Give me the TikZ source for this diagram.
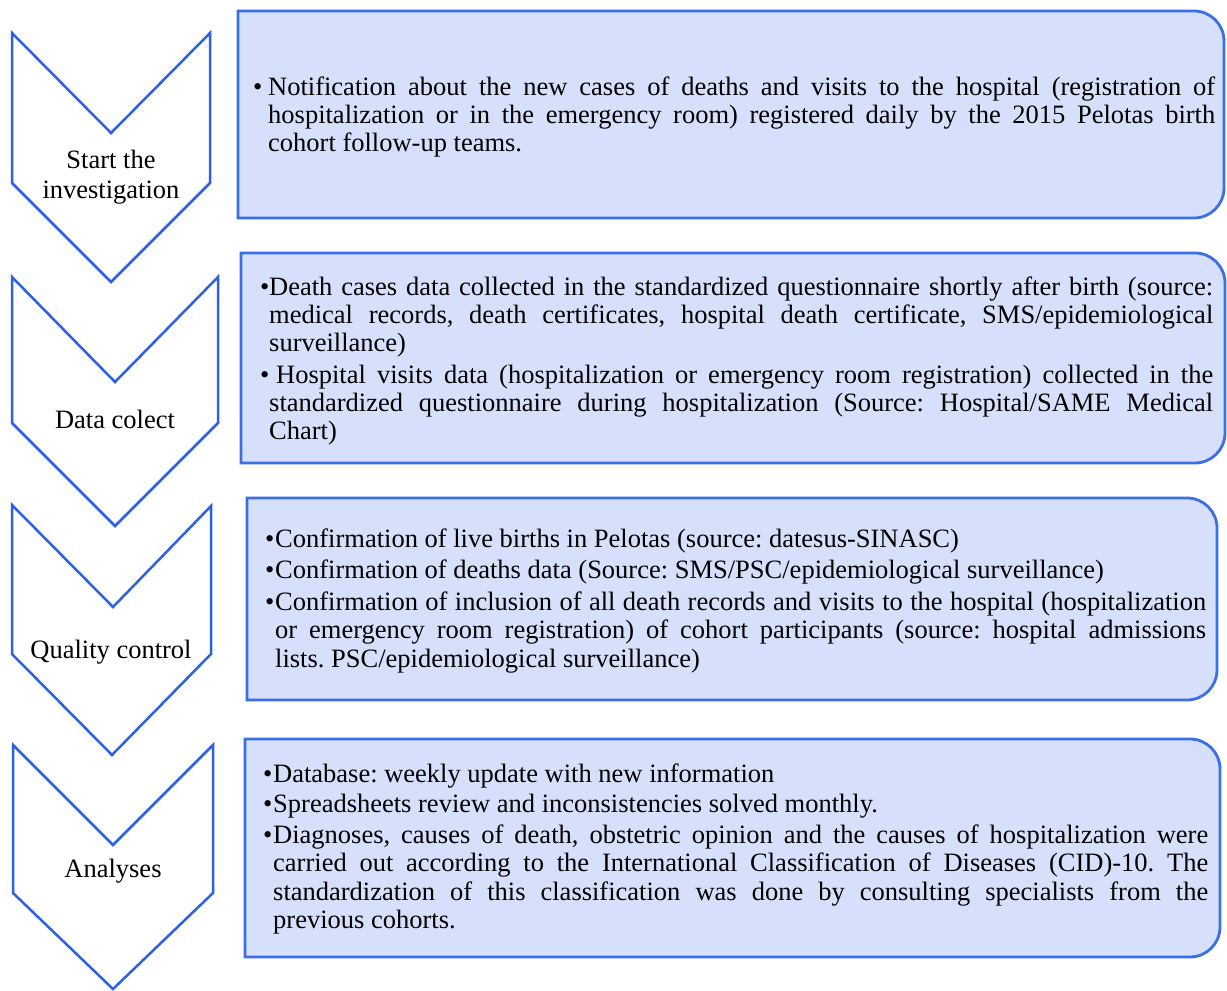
\documentclass[tikz,border=0pt]{standalone}
\usepackage{fontspec}
\setmainfont{Liberation Serif}
\frenchspacing
\definecolor{boxfill}{RGB}{214,224,250}
\definecolor{boxline}{RGB}{60,110,230}
\definecolor{chev}{RGB}{45,95,232}
\newcommand\tline[5]{\noindent\makebox[#2][l]{#1}\makebox[#4][#3]{#5}\par}
\tikzset{
  chevron/.style={draw=chev, line width=2.5pt, line join=miter, fill=white},
  infobox/.style={draw=boxline, line width=2.8pt, fill=boxfill},
  label/.style={inner sep=0pt, anchor=base, font=\fontsize{26.5}{30}\selectfont},
  body/.style={inner sep=0pt, anchor=base west},
}
\begin{document}
\begin{tikzpicture}[x=1pt,y=-1pt]
\useasboundingbox (0,0) rectangle (1227,991);
% chevrons
\draw[chevron] (12,33) -- (111,133) -- (210,33) -- (210,183) -- (111,282) -- (12,183) -- cycle;
\draw[chevron] (12,277) -- (115,382) -- (218,277) -- (218,423) -- (115,526) -- (12,423) -- cycle;
\draw[chevron] (12,505) -- (113,607) -- (211,506) -- (211,654) -- (112,755) -- (12,654) -- cycle;
\draw[chevron] (13,745) -- (113,845) -- (213,745) -- (213,893) -- (113,989) -- (13,893) -- cycle;
% boxes (right corners rounded)
\draw[infobox] (238,11) -- (1194,11) arc[start angle=-90,end angle=0,radius=30] -- (1224,188) arc[start angle=0,end angle=90,radius=30] -- (238,218) -- cycle;
\draw[infobox] (241,253) -- (1195,253) arc[start angle=-90,end angle=0,radius=30] -- (1225,433) arc[start angle=0,end angle=90,radius=30] -- (241,463) -- cycle;
\draw[infobox] (247,498) -- (1187,498) arc[start angle=-90,end angle=0,radius=30] -- (1217,670) arc[start angle=0,end angle=90,radius=30] -- (247,700) -- cycle;
\draw[infobox] (245,739) -- (1190,739) arc[start angle=-90,end angle=0,radius=30] -- (1220,927) arc[start angle=0,end angle=90,radius=30] -- (245,957) -- cycle;
% chevron labels
\node[label] (l1) at (111,168) {\parbox[t]{200pt}{\centering\fontsize{26.5}{30}\selectfont Start the\\investigation}};
\node[label] (l2) at (115,428) {Data colect};
\node[label] (l3) at (111,658) {Quality control};
\node[label] (l4) at (113,877) {Analyses};
% box texts
\node[body] (t1) at (253,95) {\parbox[t]{962pt}{\fontsize{26.5}{28}\selectfont
\tline{•}{15pt}{s}{947pt}{Notification about the new cases of deaths and visits to the hospital (registration of}
\tline{}{15pt}{s}{947pt}{hospitalization or in the emergency room) registered daily by the 2015 Pelotas birth}
\tline{}{15pt}{l}{947pt}{cohort follow-up teams.}}};
\node[body] (t2) at (260,295) {\parbox[t]{953pt}{\fontsize{26.5}{28}\selectfont
\tline{•}{9pt}{s}{944pt}{Death cases data collected in the standardized questionnaire shortly after birth (source:}
\tline{}{9pt}{s}{944pt}{medical records, death certificates, hospital death certificate, SMS/epidemiological}
\tline{}{9pt}{l}{944pt}{surveillance)}
\vspace{4pt}
\tline{•}{16pt}{s}{937pt}{Hospital visits data (hospitalization or emergency room registration) collected in the}
\tline{}{9pt}{s}{944pt}{standardized questionnaire during hospitalization (Source: Hospital/SAME Medical}
\tline{}{9pt}{l}{944pt}{Chart)}}};
\node[body] (t3) at (265,547) {\parbox[t]{941pt}{\fontsize{26.5}{28.5}\selectfont
\tline{•}{10pt}{l}{931pt}{Confirmation of live births in Pelotas (source: datesus-SINASC)}
\vspace{3pt}
\tline{•}{10pt}{l}{931pt}{Confirmation of deaths data (Source: SMS/PSC/epidemiological surveillance)}
\vspace{3pt}
\tline{•}{10pt}{s}{931pt}{Confirmation of inclusion of all death records and visits to the hospital (hospitalization}
\tline{}{10pt}{s}{931pt}{or emergency room registration) of cohort participants (source: hospital admissions}
\tline{}{10pt}{l}{931pt}{lists. PSC/epidemiological surveillance)}}};
\node[body] (t4) at (263,782) {\parbox[t]{945pt}{\fontsize{26.5}{28.5}\selectfont
\tline{•}{10pt}{l}{935pt}{Database: weekly update with new information}
\vspace{2pt}
\tline{•}{10pt}{l}{935pt}{Spreadsheets review and inconsistencies solved monthly.}
\vspace{2pt}
\tline{•}{10pt}{s}{935pt}{Diagnoses, causes of death, obstetric opinion and the causes of hospitalization were}
\tline{}{10pt}{s}{935pt}{carried out according to the International Classification of Diseases (CID)-10. The}
\tline{}{10pt}{s}{935pt}{standardization of this classification was done by consulting specialists from the}
\tline{}{10pt}{l}{935pt}{previous cohorts.}}};
\end{tikzpicture}
\end{document}
